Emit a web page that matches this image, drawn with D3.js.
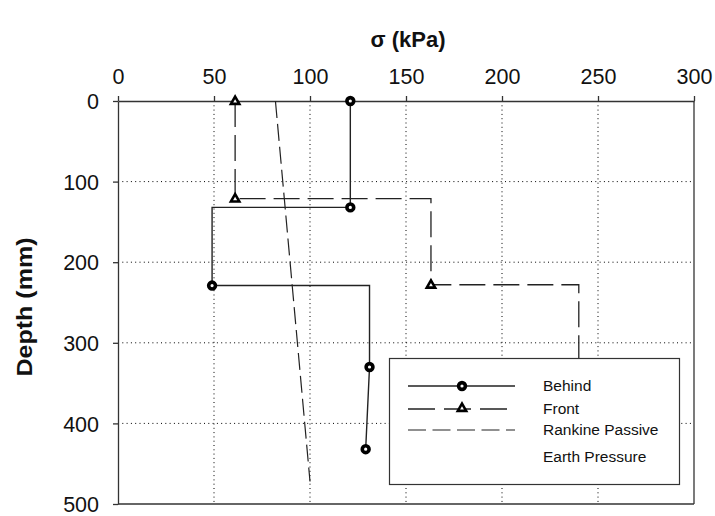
<!DOCTYPE html>
<html>
<head>
<meta charset="utf-8">
<script src="https://cdn.jsdelivr.net/npm/d3@7"></script>
<style>
  body { margin: 0; background: #fff; }
  svg { display: block; font-family: Arial, "Liberation Sans", sans-serif; }
</style>
</head>
<body>
<div id="chart"></div>
<script>
// axis ticks
const sigmaTicks = [0, 50, 100, 150, 200, 250, 300];
const depthTicks = [0, 100, 200, 300, 400, 500];

// Behind (solid, circles) - line vertices and measured points
const behindLineSigma = [121, 121, 49, 49, 131, 131, 129];
const behindLineDepth = [0, 132, 132, 229, 229, 330, 432];
const behindPtSigma = [121, 121, 49, 131, 129];
const behindPtDepth = [0, 132, 229, 330, 432];

// Front (dashed, triangles)
const frontLineSigma = [61, 61, 163, 163, 240, 240];
const frontLineDepth = [0, 121, 121, 228, 228, 330];
const frontPtSigma = [61, 61, 163, 240];
const frontPtDepth = [0, 121, 228, 330];

// Rankine passive earth pressure
const rankineSigma = [82, 100];
const rankineDepth = [0, 472];

const legendLabels = ['Behind', 'Front', 'Rankine Passive', 'Earth Pressure'];

const svg = d3.select('#chart').append('svg').attr('width', 715).attr('height', 516);

const x = d3.scaleLinear().domain([0, 300]).range([118, 694]);
const y = d3.scaleLinear().domain([0, 500]).range([101, 504]);

const ink = '#222';

// dotted grid
const grid = svg.append('g');
grid.selectAll('.gx').data(sigmaTicks.slice(1, -1)).join('line')
  .attr('x1', d => x(d)).attr('x2', d => x(d))
  .attr('y1', y(0)).attr('y2', y(500))
  .attr('stroke', '#000').attr('stroke-width', 1).attr('stroke-dasharray', '1,3.3');
grid.selectAll('.gy').data(depthTicks.slice(1, -1)).join('line')
  .attr('x1', x(0)).attr('x2', x(300))
  .attr('y1', d => y(d)).attr('y2', d => y(d))
  .attr('stroke', '#000').attr('stroke-width', 1).attr('stroke-dasharray', '1,3.3');

// frame right + bottom
svg.append('line').attr('x1', x(300)).attr('x2', x(300)).attr('y1', y(0)).attr('y2', y(500))
  .attr('stroke', '#333').attr('stroke-width', 1.3);
svg.append('line').attr('x1', x(0)).attr('x2', x(300)).attr('y1', y(500)).attr('y2', y(500))
  .attr('stroke', '#333').attr('stroke-width', 1.3);

// axes
const xAxis = d3.axisTop(x).tickValues(sigmaTicks).tickSize(5).tickSizeOuter(0);
const xg = svg.append('g').attr('transform', `translate(0,${y(0)})`).call(xAxis);
const yAxis = d3.axisLeft(y).tickValues(depthTicks).tickSize(5).tickSizeOuter(0);
const yg = svg.append('g').attr('transform', `translate(${x(0)},0)`).call(yAxis);

[xg, yg].forEach(g => {
  g.select('.domain').attr('stroke', '#333').attr('stroke-width', 1.3);
  g.selectAll('.tick line').attr('stroke', '#333').attr('stroke-width', 1.3);
  g.selectAll('.tick text').attr('font-size', 21.5).attr('fill', '#111')
    .attr('font-family', 'Arial, "Liberation Sans", sans-serif');
});
xg.selectAll('.tick text').attr('dy', 0).attr('y', -17);
yg.selectAll('.tick text').attr('x', -19).attr('dy', '0.36em');

// titles
svg.append('text').attr('x', 408).attr('y', 47).attr('text-anchor', 'middle')
  .attr('font-size', 22).attr('font-weight', 'bold').attr('fill', '#111').text('σ (kPa)');
svg.append('text').attr('transform', 'translate(32,307) rotate(-90)').attr('text-anchor', 'middle')
  .attr('font-size', 22).attr('font-weight', 'bold').attr('fill', '#111')
  .attr('textLength', 139).attr('lengthAdjust', 'spacingAndGlyphs').text('Depth (mm)');

const line = d3.line().x(d => x(d[0])).y(d => y(d[1]));

// Rankine
svg.append('path').datum(d3.zip(rankineSigma, rankineDepth)).attr('d', line)
  .attr('fill', 'none').attr('stroke', ink).attr('stroke-width', 1.2).attr('stroke-dasharray', '17,6');

// Front
svg.append('path').datum(d3.zip(frontLineSigma, frontLineDepth)).attr('d', line)
  .attr('fill', 'none').attr('stroke', ink).attr('stroke-width', 1.3).attr('stroke-dasharray', '26,8');

// Behind
svg.append('path').datum(d3.zip(behindLineSigma, behindLineDepth)).attr('d', line)
  .attr('fill', 'none').attr('stroke', ink).attr('stroke-width', 1.4);

const tri = d3.symbol().type(d3.symbolTriangle).size(30);

function circleMark(g, cx, cy) {
  g.append('circle').attr('cx', cx).attr('cy', cy).attr('r', 3.4)
    .attr('fill', '#fff').attr('stroke', '#000').attr('stroke-width', 3.6);
}
function triMark(g, cx, cy) {
  g.append('path').attr('d', tri).attr('transform', `translate(${cx},${cy + 0.5})`)
    .attr('fill', '#fff').attr('stroke', '#000').attr('stroke-width', 2.6);
}

const marks = svg.append('g');
frontPtSigma.forEach((s, i) => triMark(marks, x(s), y(frontPtDepth[i])));
behindPtSigma.forEach((s, i) => circleMark(marks, x(s), y(behindPtDepth[i])));

// legend
const lg = svg.append('g');
lg.append('rect').attr('x', 389.5).attr('y', 358.5).attr('width', 290).attr('height', 126)
  .attr('fill', '#fff').attr('stroke', '#333').attr('stroke-width', 1.2);
const rowY = [386, 409, 430];
lg.append('line').attr('x1', 408).attr('x2', 515).attr('y1', rowY[0]).attr('y2', rowY[0])
  .attr('stroke', ink).attr('stroke-width', 1.4);
circleMark(lg, 462, rowY[0]);
lg.append('line').attr('x1', 408).attr('x2', 507).attr('y1', rowY[1]).attr('y2', rowY[1])
  .attr('stroke', ink).attr('stroke-width', 1.3).attr('stroke-dasharray', '27,9');
triMark(lg, 462, rowY[1] - 1);
lg.append('line').attr('x1', 408).attr('x2', 515).attr('y1', rowY[2]).attr('y2', rowY[2])
  .attr('stroke', ink).attr('stroke-width', 1.2).attr('stroke-dasharray', '18,6.5');

const textY = [386, 409, 430, 457];
lg.selectAll('.lt').data(legendLabels).join('text')
  .attr('x', 543).attr('y', (d, i) => textY[i]).attr('dy', '0.35em')
  .attr('font-size', 15.5).attr('fill', '#111').text(d => d);
</script>
</body>
</html>
